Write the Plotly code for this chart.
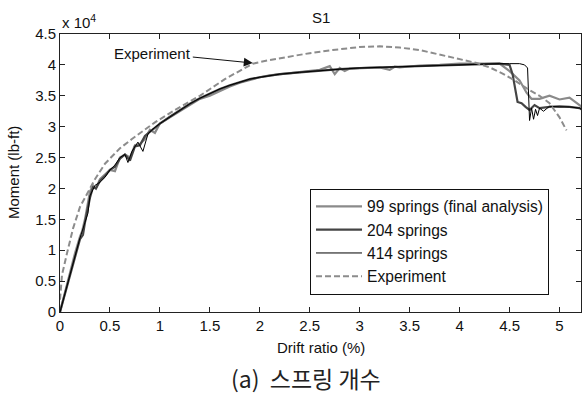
import plotly.graph_objects as go

# Data (moment in units of 10^4 lb-ft, drift ratio in %)
x99 = [0, 0.05, 0.1, 0.15, 0.2, 0.22, 0.25, 0.28, 0.3, 0.33, 0.36, 0.4, 0.45, 0.5, 0.55, 0.6, 0.65, 0.7,
       0.75, 0.8, 0.85, 0.9, 0.95, 1.0, 1.1, 1.2, 1.3, 1.4, 1.5, 1.6, 1.7, 1.8, 1.9, 2.0, 2.1, 2.2, 2.4, 2.6,
       2.7, 2.75, 2.8, 2.85, 2.9, 3.0, 3.2, 3.3, 3.35, 3.4, 3.5, 3.6, 3.8, 4.0, 4.2, 4.4, 4.5, 4.6, 4.67,
       4.72, 4.8, 4.9, 5.0, 5.1, 5.2, 5.22]
y99 = [0, 0.32, 0.63, 0.95, 1.22, 1.3, 1.5, 1.75, 1.95, 2.05, 2.0, 2.15, 2.22, 2.3, 2.28, 2.5, 2.55, 2.5,
       2.7, 2.72, 2.8, 2.95, 2.9, 3.05, 3.15, 3.25, 3.35, 3.45, 3.5, 3.58, 3.65, 3.71, 3.76, 3.8, 3.83,
       3.85, 3.88, 3.92, 3.98, 3.85, 3.95, 3.9, 3.94, 3.95, 3.96, 3.92, 3.97, 3.96, 3.98, 3.99, 4.0, 4.02,
       4.02, 4.02, 3.9, 3.75, 3.55, 3.45, 3.45, 3.5, 3.44, 3.47, 3.35, 3.32]

x204 = [0, 0.05, 0.1, 0.15, 0.2, 0.23, 0.25, 0.3, 0.33, 0.36, 0.4, 0.45, 0.5, 0.55, 0.6, 0.65, 0.7, 0.75,
        0.8, 0.85, 0.9, 1.0, 1.1, 1.2, 1.3, 1.4, 1.5, 1.6, 1.7, 1.8, 1.9, 2.0, 2.1, 2.2, 2.4, 2.6, 2.8,
        3.0, 3.2, 3.4, 3.6, 3.8, 4.0, 4.2, 4.4, 4.5, 4.53, 4.58, 4.62, 4.66, 4.7, 4.75, 4.8, 4.9, 5.0,
        5.1, 5.2, 5.22]
y204 = [0, 0.3, 0.6, 0.9, 1.18, 1.25, 1.45, 1.85, 2.02, 2.0, 2.12, 2.2, 2.3, 2.35, 2.48, 2.55, 2.45,
        2.68, 2.7, 2.85, 2.92, 3.05, 3.16, 3.27, 3.37, 3.46, 3.54, 3.61, 3.67, 3.72, 3.77, 3.8, 3.83,
        3.85, 3.88, 3.91, 3.93, 3.95, 3.96, 3.97, 3.99, 4.0, 4.01, 4.02, 4.02, 4.0, 3.85, 3.4, 3.38,
        3.32, 3.27, 3.35, 3.3, 3.32, 3.33, 3.32, 3.3, 3.28]

x414 = [0, 0.05, 0.1, 0.15, 0.18, 0.2, 0.25, 0.28, 0.3, 0.35, 0.4, 0.45, 0.5, 0.55, 0.6, 0.65, 0.68, 0.72,
        0.78, 0.83, 0.88, 0.92, 1.0, 1.1, 1.2, 1.3, 1.4, 1.5, 1.6, 1.7, 1.8, 1.9, 2.0, 2.1, 2.2, 2.4, 2.6,
        2.8, 3.0, 3.2, 3.4, 3.6, 3.8, 4.0, 4.2, 4.4, 4.5, 4.6, 4.65, 4.68, 4.7, 4.72, 4.74, 4.76, 4.78,
        4.8, 4.84, 4.9, 5.0, 5.1, 5.2, 5.22]
y414 = [0, 0.3, 0.6, 0.9, 1.1, 1.2, 1.45, 1.6, 1.88, 2.05, 2.1, 2.18, 2.3, 2.38, 2.5, 2.55, 2.42, 2.6,
        2.75, 2.6, 2.88, 2.95, 3.05, 3.16, 3.27, 3.37, 3.46, 3.54, 3.61, 3.67, 3.72, 3.77, 3.8, 3.83,
        3.85, 3.88, 3.91, 3.93, 3.95, 3.96, 3.97, 3.99, 4.0, 4.01, 4.02, 4.02, 4.02, 4.02, 4.0, 3.95, 3.1,
        3.3, 3.12, 3.28, 3.18, 3.3, 3.25, 3.33, 3.32, 3.32, 3.3, 3.28]

x_exp = [0, 0.02, 0.07, 0.13, 0.2, 0.28, 0.35, 0.45, 0.6, 0.72, 0.85, 0.95, 1.15, 1.4, 1.65, 1.93, 2.1,
         2.3, 2.5, 2.73, 3.0, 3.2, 3.4, 3.6, 3.8, 4.0, 4.17, 4.3, 4.43, 4.55, 4.7, 4.8, 4.9, 5.0, 5.07]
y_exp = [0.2, 0.6, 0.95, 1.35, 1.7, 1.95, 2.15, 2.4, 2.65, 2.8, 2.95, 3.07, 3.27, 3.5, 3.77, 4.02, 4.08,
         4.14, 4.19, 4.24, 4.29, 4.3, 4.28, 4.24, 4.17, 4.1, 4.03, 3.96, 3.86, 3.75, 3.59, 3.5, 3.38, 3.15,
         2.94]

x_ticks = [0, 0.5, 1, 1.5, 2, 2.5, 3, 3.5, 4, 4.5, 5]
y_ticks = [0, 0.5, 1, 1.5, 2, 2.5, 3, 3.5, 4, 4.5]
x_tick_labels = ["0", "0.5", "1", "1.5", "2", "2.5", "3", "3.5", "4", "4.5", "5"]
y_tick_labels = ["0", "0.5", "1", "1.5", "2", "2.5", "3", "3.5", "4", "4.5"]

FONT = "Liberation Sans, Arial, sans-serif"
FS = 15

fig = go.Figure()
fig.add_trace(go.Scatter(x=x99, y=y99, mode="lines", name="99 springs (final analysis)",
                         line=dict(color="#8a8a8a", width=2.2)))
fig.add_trace(go.Scatter(x=x204, y=y204, mode="lines", name="204 springs",
                         line=dict(color="#444444", width=2.2)))
fig.add_trace(go.Scatter(x=x414, y=y414, mode="lines", name="414 springs",
                         line=dict(color="#000000", width=1)))
fig.add_trace(go.Scatter(x=x_exp, y=y_exp, mode="lines", name="Experiment",
                         line=dict(color="#8c8c8c", width=2, dash="6px,3px")))

axis_common = dict(showgrid=False, zeroline=False, showline=True, linecolor="#222222", linewidth=1,
                   mirror="ticks", ticks="inside", ticklen=5, tickcolor="#222222",
                   tickfont=dict(family=FONT, size=FS, color="#111111"))

fig.update_layout(
    width=582, height=394,
    margin=dict(l=60, r=1, t=34, b=82),
    paper_bgcolor="white", plot_bgcolor="white",
    showlegend=True,
    legend=dict(x=0.9386, y=0.062, xanchor="right", yanchor="bottom",
                bordercolor="#111111", borderwidth=1, bgcolor="white",
                font=dict(family=FONT, size=15.6, color="#111111"),
                itemwidth=46, tracegroupgap=0),
    xaxis=dict(range=[0, 5.215], tickvals=x_ticks, ticktext=x_tick_labels, **axis_common),
    yaxis=dict(range=[0, 4.5], tickvals=y_ticks, ticktext=y_tick_labels, **axis_common),
)

fig.add_annotation(text="S1", xref="paper", yref="paper", x=0.5, y=1, yanchor="middle", yshift=17,
                   showarrow=False, font=dict(family=FONT, size=FS, color="#111111"))
fig.add_annotation(text="x 10<sup>4</sup>", xref="paper", yref="paper", x=0, y=1, yanchor="middle",
                   yshift=13, xanchor="left", showarrow=False,
                   font=dict(family=FONT, size=FS, color="#111111"))
fig.add_annotation(text="Drift ratio (%)", xref="paper", yref="paper", x=0.5, y=0, yanchor="middle",
                   yshift=-35, showarrow=False, font=dict(family=FONT, size=FS, color="#111111"))
fig.add_annotation(text="Moment (lb-ft)", xref="paper", yref="paper", x=0, xanchor="center", xshift=-47,
                   y=0.5, yanchor="middle", textangle=-90, showarrow=False,
                   font=dict(family=FONT, size=FS, color="#111111"))
fig.add_annotation(text="(a)\u00a0\u00a0스프링 개수", xref="paper", yref="paper", x=(306 - 60) / 521,
                   y=0, yanchor="middle", yshift=-66, showarrow=False,
                   font=dict(family="Noto Sans CJK KR, sans-serif", size=23, color="#222222"))
fig.add_annotation(text="Experiment", x=1.93, y=4.03, ax=-100, ay=-10, showarrow=True,
                   arrowhead=2, arrowsize=1.8, arrowwidth=1, arrowcolor="#111111",
                   font=dict(family=FONT, size=FS, color="#111111"))

fig.write_html("out.html")
